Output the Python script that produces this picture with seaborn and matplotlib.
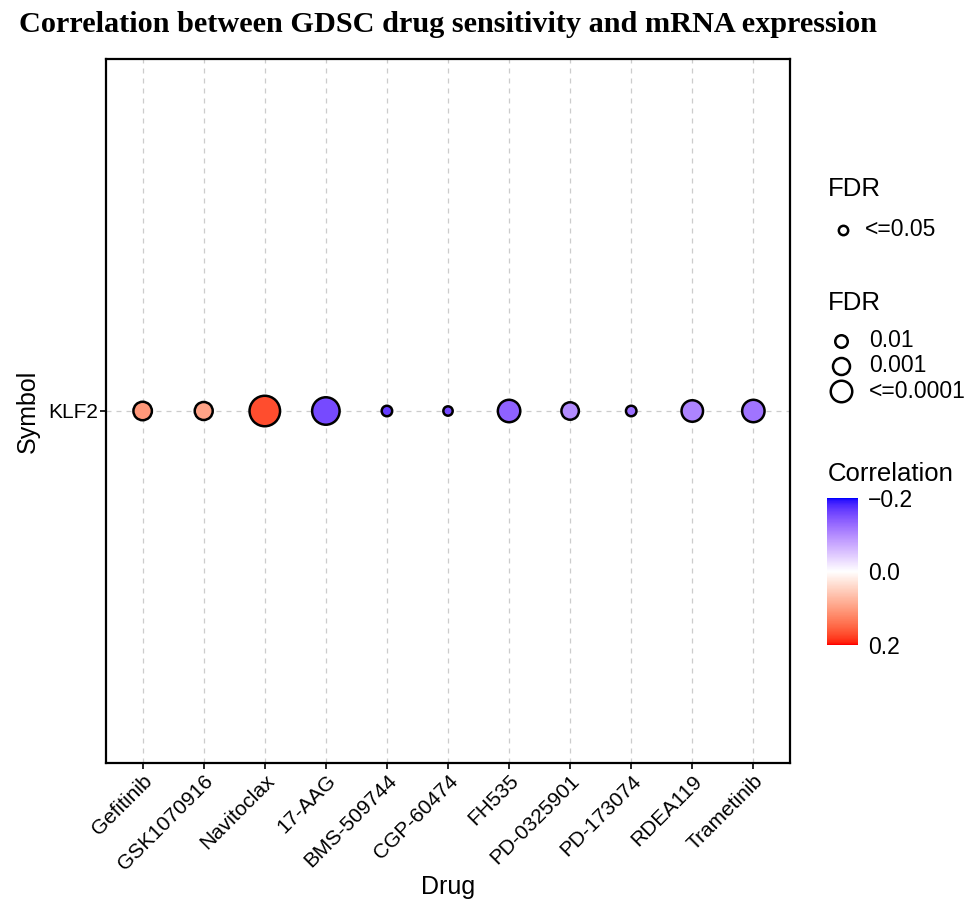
import numpy as np
import pandas as pd
import matplotlib
matplotlib.use("Agg")
import matplotlib.pyplot as plt
from matplotlib.colors import ListedColormap, Normalize
from matplotlib.lines import Line2D
from matplotlib.cm import ScalarMappable
import seaborn as sns

# ---------------- data ----------------
drugs = ["Gefitinib", "GSK1070916", "Navitoclax", "17-AAG", "BMS-509744",
         "CGP-60474", "FH535", "PD-0325901", "PD-173074", "RDEA119", "Trametinib"]
symbols = ["KLF2"] * len(drugs)
correlation = [0.105, 0.095, 0.17, -0.155, -0.167, -0.155, -0.135,
               -0.10, -0.125, -0.105, -0.12]
fdr = [4.7e-4, 6e-4, 1e-6, 4.7e-6, 2.8e-2, 5e-2, 6.3e-5, 8e-4, 2.8e-2, 1e-4, 6.3e-5]
size_legend_fdr = [0.01, 0.001, 0.0001]
size_legend_labels = ["0.01", "0.001", "<=0.0001"]
sig_legend_fdr = [0.05]
sig_legend_labels = ["<=0.05"]
corr_ticks = [-0.2, 0.0, 0.2]
corr_tick_labels = ["\u22120.2", "0.0", "0.2"]

# ---------------- styling helpers ----------------
sns.set_theme(style="white")
plt.rcParams["font.family"] = ["Liberation Sans", "DejaVu Sans"]
plt.rcParams["text.color"] = "black"
plt.rcParams["axes.labelcolor"] = "black"

DPI = 100
LW = 1.8  # marker edge width in points
W, H = 967, 901


def outer_px(f):
    return 4.5 * (-np.log10(f)) + 6.0


def marker_pt(f):
    return max(outer_px(f) - LW / 0.72, 1.0) * 0.72


def srgb_to_lab(rgb):
    rgb = np.asarray(rgb, float)
    lin = np.where(rgb <= 0.04045, rgb / 12.92, ((rgb + 0.055) / 1.055) ** 2.4)
    M = np.array([[0.4124, 0.3576, 0.1805],
                  [0.2126, 0.7152, 0.0722],
                  [0.0193, 0.1192, 0.9505]])
    xyz = M @ lin
    xyz = xyz / np.array([0.95047, 1.0, 1.08883])
    f = np.where(xyz > 0.008856, np.cbrt(xyz), 7.787 * xyz + 16 / 116)
    return np.array([116 * f[1] - 16, 500 * (f[0] - f[1]), 200 * (f[1] - f[2])])


def lab_to_srgb(lab):
    L, a, b = lab
    fy_ = (L + 16) / 116
    fx_ = fy_ + a / 500
    fz_ = fy_ - b / 200
    f = np.array([fx_, fy_, fz_])
    xyz = np.where(f ** 3 > 0.008856, f ** 3, (f - 16 / 116) / 7.787)
    xyz = xyz * np.array([0.95047, 1.0, 1.08883])
    Mi = np.array([[3.2406, -1.5372, -0.4986],
                   [-0.9689, 1.8758, 0.0415],
                   [0.0557, -0.2040, 1.0570]])
    lin = np.clip(Mi @ xyz, 0, 1)
    rgb = np.where(lin <= 0.0031308, 12.92 * lin, 1.055 * lin ** (1 / 2.4) - 0.055)
    return np.clip(rgb, 0, 1)


lab_blue = srgb_to_lab([0, 0, 1])
lab_white = srgb_to_lab([1, 1, 1])
lab_red = srgb_to_lab([1, 0, 0])
cols = []
for v in np.linspace(-1, 1, 256):
    if v < 0:
        lab = lab_white + (-v) * (lab_blue - lab_white)
    else:
        lab = lab_white + v * (lab_red - lab_white)
    cols.append(lab_to_srgb(lab))
cmap = ListedColormap(cols)
norm = Normalize(-0.2, 0.2)


def fx(px):
    return px / W


def fy(py):
    return 1 - py / H


# ---------------- figure ----------------
fig = plt.figure(figsize=(W / DPI, H / DPI), dpi=DPI)
ax = fig.add_axes([fx(106), fy(763), (790 - 106) / W, (763 - 59) / H])

df = pd.DataFrame({"Drug": drugs, "Symbol": symbols,
                   "Correlation": correlation, "FDR": fdr})
df["area"] = [marker_pt(f) ** 2 for f in df["FDR"]]
amin, amax = df["area"].min(), df["area"].max()

ax.grid(True, linestyle=(0, (4, 4)), color="#CCCCCC", linewidth=0.9)
ax.set_axisbelow(True)
sns.scatterplot(data=df, x="Drug", y="Symbol", hue="Correlation", palette=cmap,
                hue_norm=(-0.2, 0.2), size="area", sizes=(amin, amax),
                size_norm=(amin, amax), edgecolor="black", linewidth=LW,
                legend=False, ax=ax, zorder=3)

ax.set_xlim(-0.6, len(drugs) - 1 + 0.6)
ax.set_ylim(-0.6, 0.6)
for s in ax.spines.values():
    s.set_visible(True)
    s.set_color("black")
    s.set_linewidth(1.6)
ax.tick_params(axis="both", which="both", direction="out", length=4, width=1.2,
               color="black", labelsize=15, labelcolor="black",
               bottom=True, left=True, pad=2)
plt.setp(ax.get_xticklabels(), rotation=45, ha="right", rotation_mode="anchor")
ax.set_xlabel("Drug", fontsize=18, va="center")
ax.xaxis.set_label_coords(0.5, (763 - 887) / 704)
ax.set_ylabel("Symbol", fontsize=18, labelpad=6)

fig.text(fx(448), fy(24), "Correlation between GDSC drug sensitivity and mRNA expression",
         ha="center", va="center", fontsize=21.75, fontweight="bold", color="black",
         family=["Liberation Serif", "DejaVu Serif"])

# ---------------- legends (drawn as keys) ----------------
TITLE_FS = 18.5
LABEL_FS = 16.5


def legend_key(xc, yc, f, label, xt):
    fig.add_artist(Line2D([fx(xc)], [fy(yc)], transform=fig.transFigure,
                          marker="o", linestyle="", markerfacecolor="white",
                          markeredgecolor="black", markeredgewidth=LW,
                          markersize=marker_pt(f)))
    fig.text(fx(xt), fy(yc), label, ha="left", va="center", fontsize=LABEL_FS)


fig.text(fx(828), fy(189), "FDR", ha="left", va="center", fontsize=TITLE_FS)
for f, lab, yc in zip(sig_legend_fdr, sig_legend_labels, [230]):
    legend_key(842.5, yc, f, lab, 865)

fig.text(fx(828), fy(303), "FDR", ha="left", va="center", fontsize=TITLE_FS)
for f, lab, yc in zip(size_legend_fdr, size_legend_labels, [341, 366, 391]):
    legend_key(841, yc, f, lab, 869)

cax = fig.add_axes([fx(827), fy(645), 31 / W, 147 / H])
sm = ScalarMappable(norm=norm, cmap=cmap)
cb = fig.colorbar(sm, cax=cax, ticks=corr_ticks)
cb.outline.set_visible(False)
cax.invert_yaxis()
cax.tick_params(length=0, labelsize=LABEL_FS, pad=7, labelcolor="black")
cax.set_yticklabels(corr_tick_labels)
fig.text(fx(828), fy(474), "Correlation", ha="left", va="center", fontsize=TITLE_FS)

fig.savefig("out.png", dpi=DPI)
